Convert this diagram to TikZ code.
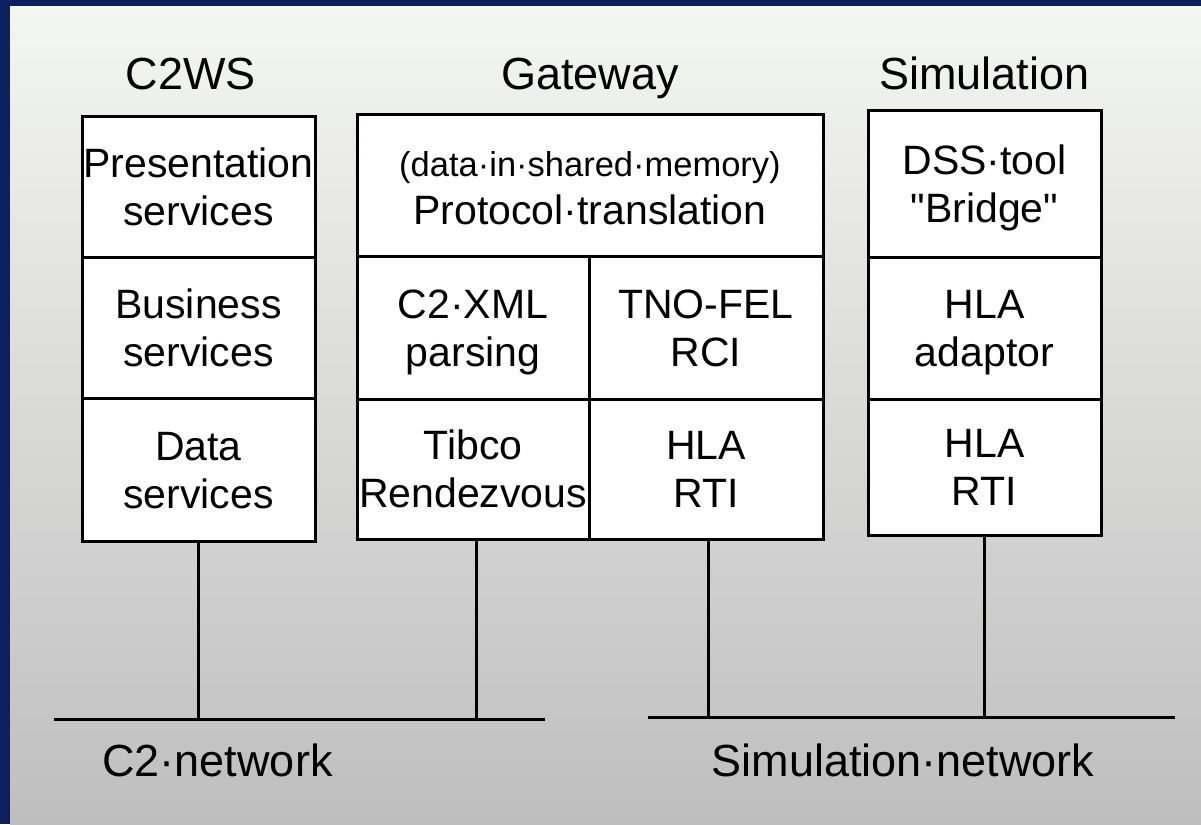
\documentclass[tikz,border=0pt]{standalone}
\usepackage{fontspec}
\setmainfont{Liberation Sans}
\newfontfamily\plainsans{Liberation Sans}
\definecolor{navy}{HTML}{0C1F5E}
\definecolor{bgtop}{HTML}{F4F6F2}
\definecolor{bgmid}{HTML}{DEDFDC}
\definecolor{bgbot}{HTML}{BEBEBE}
\newcommand\ls{\rule[-9pt]{0pt}{47pt}}
\begin{document}
\begin{tikzpicture}[x=1pt,y=-1pt,
  cell/.style={draw, line width=3pt, fill=white, inner sep=0pt, align=center,
    font=\plainsans\fontsize{41}{48}\selectfont},
  title/.style={font=\plainsans\fontsize{45}{50}\selectfont, anchor=base, inner sep=0pt},
  wire/.style={line width=3pt}]
\useasboundingbox (0,0) rectangle (1201,824);
\fill[navy] (0,0) rectangle (1201,824);
\shade[top color=bgtop, middle color=bgmid, bottom color=bgbot] (10,7) rectangle (1201,824);

% titles
\node[title] (tc2) at (191,90) {C2WS};
\node[title] (tgw) at (590,90) {Gateway};
\node[title] (tsim) at (984.5,90) {Simulation};

% C2WS stack
\node[cell, minimum width=233pt, minimum height=140pt] (pres) at (198.5,187) {\ls Presentation\\\ls services};
\node[cell, minimum width=233pt, minimum height=141pt] (bus) at (198.5,327.5) {\ls Business\\\ls services};
\node[cell, minimum width=233pt, minimum height=143pt] (data) at (198.5,469.5) {\ls Data\\\ls services};

% Gateway stack
\node[cell, minimum width=466pt, minimum height=141pt] (proto) at (590,185.5)
  {\ls{\fontsize{34.5}{48}\selectfont (data·in·shared·memory)}\\\ls Protocol·translation};
\node[cell, minimum width=232pt, minimum height=143pt] (xml) at (473,327.5) {\ls C2·XML\\\ls parsing};
\node[cell, minimum width=234pt, minimum height=143pt] (rci) at (706,327.5) {\ls TNO-FEL\\\ls RCI};
\node[cell, minimum width=232pt, minimum height=140pt] (tib) at (473,469) {\ls Tibco\\\ls Rendezvous};
\node[cell, minimum width=234pt, minimum height=140pt] (rtig) at (706,469) {\ls HLA\\\ls RTI};

% Simulation stack
\node[cell, minimum width=233pt, minimum height=146pt] (dss) at (984.5,184) {\ls DSS·tool\\\ls "Bridge"};
\node[cell, minimum width=233pt, minimum height=142pt] (adap) at (984.5,328) {\ls HLA\\\ls adaptor};
\node[cell, minimum width=233pt, minimum height=136pt] (rtis) at (984.5,467) {\ls HLA\\\ls RTI};

% networks
\coordinate (c2L) at (54,719);
\coordinate (c2R) at (545,719);
\coordinate (simL) at (648,717);
\coordinate (simR) at (1175,717);
\draw[wire] (c2L) -- (c2R);
\draw[wire] (simL) -- (simR);

\draw[wire] (data.south) -- (data.south |- c2L);
\draw[wire] ([xshift=3pt]tib.south) -- ([xshift=3pt]tib.south |- c2L);
\draw[wire] ([xshift=2pt]rtig.south) -- ([xshift=2pt]rtig.south |- simL);
\draw[wire] (rtis.south) -- (rtis.south |- simL);

\node[title] (c2net) at (217.5,776) {C2·network};
\node[title] (simnet) at (903,776) {Simulation·network};
\end{tikzpicture}
\end{document}
